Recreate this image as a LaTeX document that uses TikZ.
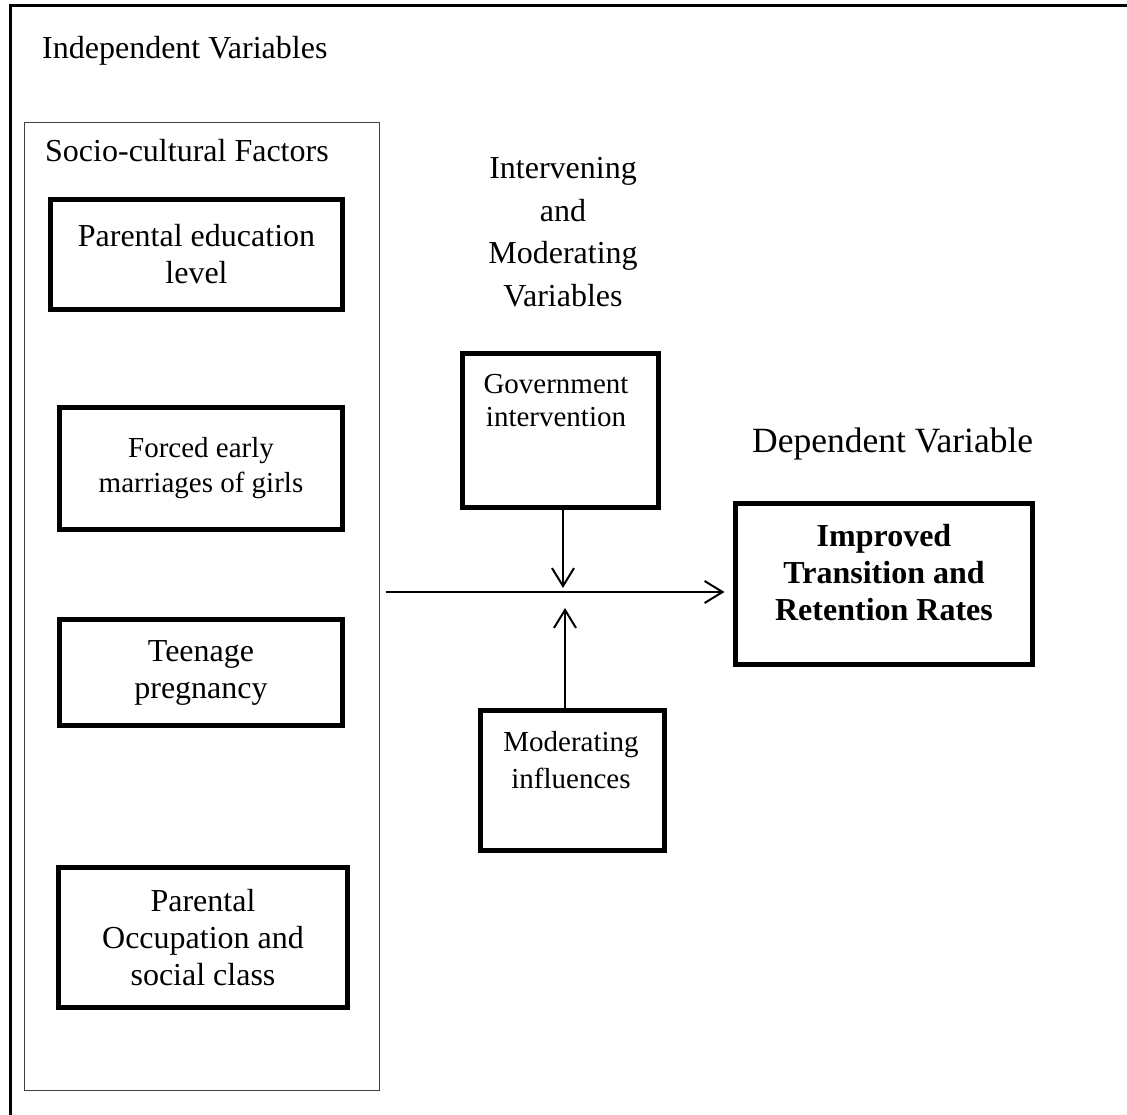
\documentclass[tikz,border=0pt]{standalone}
\usepackage{fontspec}
\setmainfont{Liberation Serif}
\usetikzlibrary{arrows.meta,positioning}

\begin{document}
\begin{tikzpicture} [
                x=1pt, y=-1pt,
                frame/.style = {line width=3pt},
                group/.style = {draw=black!75, line width=1.2pt, minimum width=355pt, minimum height=968pt},
                factor/.style = {draw, line width=5pt, align=center, inner sep=0pt, font=\fontsize{32}{37}\selectfont},
                plain/.style = {},
                smaller/.style = {font=\fontsize{29}{35}\selectfont},
                heading/.style = {inner sep=0pt, font=\fontsize{32}{37}\selectfont},
                flow/.style = {draw, line width=2pt, -{Straight Barb[length=18pt,width=22pt,line width=2pt]}},
            ]
            \useasboundingbox (0,0) rectangle (1127,1115);
            \draw[frame] (10,1115) -- (10,6) -- (1127,6);
            \node[heading, anchor=base west] (indep) at (42,59) {Independent Variables};
            % socio-cultural group with its factors
            \node[group] (socio) at (202,606.5) {};
            \node[heading, anchor=base west] (sociotitle) at (45,162) {Socio-cultural Factors};
            \foreach \pos/\name/\w/\h/\sz/\txt in {
                    {(196.5,254.5)/edu/292/110/plain/Parental education\\level},
                    {(201,468.5)/marriage/283/122/smaller/Forced early\\marriages of girls},
                    {(201,672.5)/pregnancy/283/106/plain/Teenage\\pregnancy},
                    {(203,937.5)/occupation/289/140/plain/Parental\\Occupation and\\social class}}
                \node[factor, \sz, minimum width=\w pt, minimum height=\h pt] (\name) at \pos {\txt};
            % intervening and moderating variables
            \node[heading, align=center, font=\fontsize{32}{42.7}\selectfont, anchor=north] (interv) at (563,157) {Intervening\\and\\Moderating\\Variables};
            \node[factor, minimum width=196pt, minimum height=154pt] (gov) at (560.5,430.5) {};
            \node[heading, align=center, font=\fontsize{29}{33}\selectfont, anchor=north] (govtext) at (556,374) {Government\\intervention};
            \node[factor, minimum width=184pt, minimum height=140pt] (mod) at (572.5,780.5) {};
            \node[heading, align=center, font=\fontsize{29}{37}\selectfont, anchor=north] (modtext) at (571,731) {Moderating\\influences};
            % dependent variable
            \node[heading, anchor=base west, font=\fontsize{35.5}{40}\selectfont] (deptitle) at (752,452) {Dependent Variable};
            \node[factor, minimum width=297pt, minimum height=161pt] (dep) at (884,584) {};
            \node[heading, align=center, font=\fontsize{32}{37}\selectfont\bfseries, anchor=north] (deptext) at (884,524) {Improved\\Transition and\\Retention Rates};
            % connectors
            \coordinate (join) at (563,592);
            \coordinate (govtip) at (563,588);
            \coordinate (modtip) at (565,608);
            \path[flow, shorten <=5.5pt, shorten >=8.5pt] (socio.east |- join) -- (dep.west |- join);
            \path[flow] (gov.south -| govtip) -- (govtip);
            \path[flow] (mod.north -| modtip) -- (modtip);
        \end{tikzpicture}
\end{document}
